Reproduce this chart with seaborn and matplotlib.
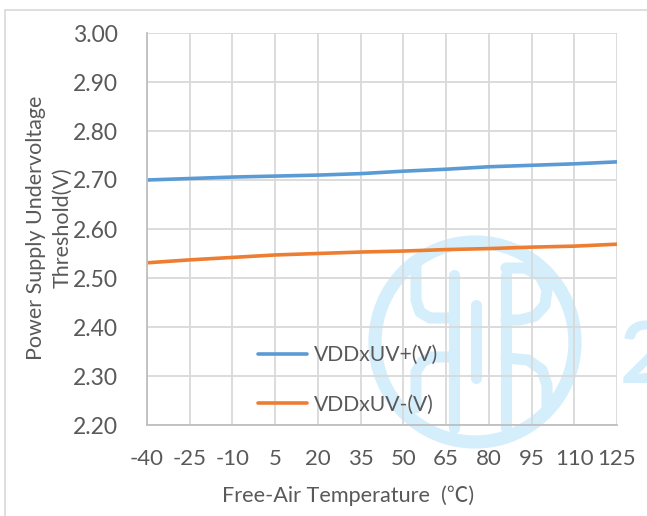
import pandas as pd
import matplotlib
matplotlib.use("Agg")
import matplotlib.pyplot as plt
from matplotlib.patches import Circle, Rectangle
from matplotlib.lines import Line2D
import seaborn as sns

# ---------------------------
# Data
# ---------------------------
temps = ["-40", "-25", "-10", "5", "20", "35", "50", "65", "80", "95", "110", "125"]
uv_plus = [2.700, 2.703, 2.706, 2.708, 2.710, 2.713, 2.718, 2.722, 2.727, 2.730, 2.733, 2.737]
uv_minus = [2.531, 2.537, 2.542, 2.547, 2.550, 2.553, 2.555, 2.558, 2.560, 2.563, 2.565, 2.569]
series_names = ["VDDxUV+(V)", "VDDxUV-(V)"]
y_ticks = [2.20, 2.30, 2.40, 2.50, 2.60, 2.70, 2.80, 2.90, 3.00]

df = pd.DataFrame({
    "temp": temps * 2,
    "value": uv_plus + uv_minus,
    "series": [series_names[0]] * len(temps) + [series_names[1]] * len(temps),
})

# ---------------------------
# Style
# ---------------------------
sns.set_style("whitegrid")
plt.rcParams['font.family'] = ['Lato', 'DejaVu Sans']
text_color = "#595959"
grid_color = "#D9D9D9"
mark_color = "#D5EEFB"

W, H = 647, 516
fig = plt.figure(figsize=(W / 100, H / 100), dpi=100)
ax = fig.add_axes([147 / W, 1 - 425 / H, 470 / W, 392 / H])
ax.set_facecolor("none")

# outer chart border
fig.patches.append(Rectangle((5 / W, -0.1), 1.2, 1 - 10 / H + 0.1,
                             transform=fig.transFigure, fill=False,
                             edgecolor=grid_color, linewidth=1.2, zorder=-2))

# faint watermark logo behind the chart (pixel coords -> inches)
def px(x, y):
    return x / 100, (H - y) / 100

fig.patches.append(Circle(px(475, 342), 1.00, transform=fig.dpi_scale_trans,
                          fill=False, edgecolor=mark_color, linewidth=9.5, zorder=-1))
strokes = [
    [(416, 262), (416, 300), (420, 312), (430, 318), (450, 318)],
    [(454, 275), (454, 428)],
    [(476, 305), (476, 378)],
    [(506, 275), (506, 428)],
    [(506, 268), (525, 268), (540, 276), (547, 290), (545, 305), (535, 316), (520, 320), (506, 320)],
    [(506, 358), (528, 360), (542, 370), (547, 385), (547, 408)],
    [(416, 408), (416, 372), (422, 362), (432, 357), (452, 357)],
]
for s in strokes:
    pts = [px(x, y) for x, y in s]
    fig.lines.append(Line2D([p[0] for p in pts], [p[1] for p in pts],
                            transform=fig.dpi_scale_trans, color=mark_color,
                            linewidth=8, solid_joinstyle="round", zorder=-1))
fig.text(620 / W, 1 - 383 / H, "2", fontsize=62, fontweight="bold",
         color=mark_color, ha="left", va="baseline", zorder=-1)

sns.lineplot(data=df, x="temp", y="value", hue="series", sort=False,
             palette=["#5B9BD5", "#ED7D31"], linewidth=2.6, ax=ax)

ax.set_xlim(0, len(temps) - 1)
ax.set_ylim(2.20, 3.00)
ax.set_yticks(y_ticks)
ax.set_yticklabels([f"{v:.2f}" for v in y_ticks])
ax.tick_params(axis="both", length=0, labelsize=16.5, labelcolor=text_color)
ax.tick_params(axis="x", pad=17, labelsize=16)
ax.tick_params(axis="y", pad=21)
ax.grid(True, color=grid_color, linewidth=1.3)
for side in ["top", "right"]:
    ax.spines[side].set_visible(False)
for side in ["left", "bottom"]:
    ax.spines[side].set_color("#BFBFBF")
    ax.spines[side].set_linewidth(1.3)

ax.set_xlabel("")
ax.set_ylabel("")
fig.text(348 / W, 1 - 496 / H, "Free-Air Temperature  (℃)", fontsize=15.6, color=text_color,
         ha="center", va="center", family=['Lato', 'Noto Sans CJK SC', 'DejaVu Sans'])
fig.text(49 / W, 1 - 228 / H, "Power Supply Undervoltage\nThreshold(V)", fontsize=15.5,
         color=text_color, ha="center", va="center", rotation=90, linespacing=1.4,
         multialignment="center")

leg = ax.legend(loc="center left", bbox_to_anchor=(0.195, 0.115), frameon=False,
                fontsize=15.2, handlelength=2.35, handletextpad=0.3, labelspacing=1.4)
for t in leg.get_texts():
    t.set_color(text_color)

plt.savefig("out.png", dpi=100)
plt.close()
